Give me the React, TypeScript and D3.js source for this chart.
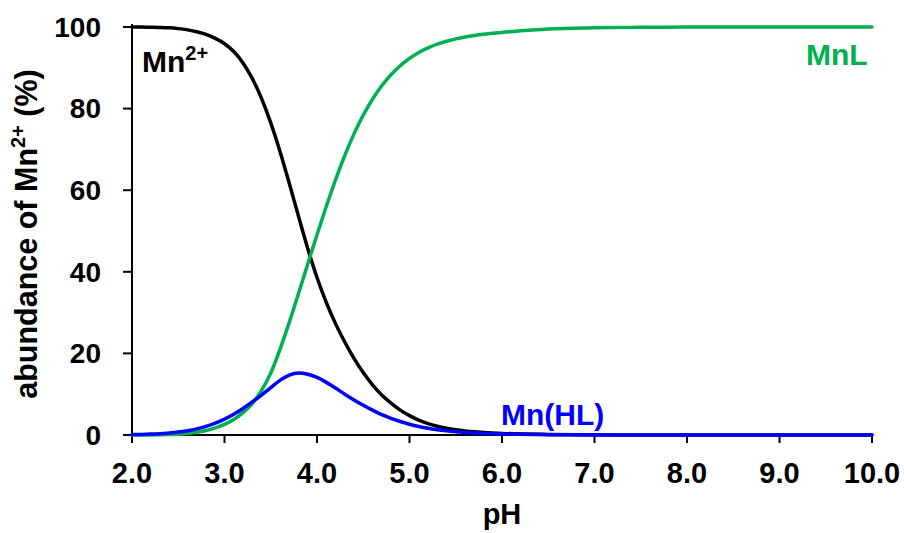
import React from "react";
import * as d3 from "d3";

// pH grid on which the species abundances are tabulated
const pH = [
  2.0, 2.1, 2.2, 2.3, 2.4, 2.5, 2.6, 2.7, 2.8, 2.9,
  3.0, 3.1, 3.2, 3.3, 3.4, 3.5, 3.6, 3.7, 3.8, 3.9,
  4.0, 4.1, 4.2, 4.3, 4.4, 4.5, 4.6, 4.7, 4.8, 4.9,
  5.0, 5.1, 5.2, 5.3, 5.4, 5.5, 5.6, 5.7, 5.8, 5.9,
  6.0, 6.5, 7.0, 7.5, 8.0, 9.0, 10.0,
];

// abundance of free Mn2+ (% of total Mn)
const mnFree = [
  100, 99.98, 99.95, 99.9, 99.8, 99.6, 99.3, 98.85, 98.2, 97.2,
  95.9, 94.0, 91.2, 87.4, 82.5, 76.5, 69.5, 61.7, 53.6, 45.7,
  38.6, 32.5, 27.3, 22.8, 18.8, 15.3, 12.3, 9.8, 7.8, 6.1,
  4.75, 3.65, 2.8, 2.15, 1.65, 1.28, 1.0, 0.78, 0.62, 0.49,
  0.39, 0.14, 0.05, 0.02, 0.0, 0.0, 0.0,
];

// abundance of the MnL complex
const mnL = [
  0.0, 0.01, 0.02, 0.05, 0.1, 0.2, 0.38, 0.65, 1.1, 1.75,
  2.6, 3.8, 5.5, 7.7, 10.9, 15.2, 21.0, 27.6, 34.7, 41.9,
  49.1, 56.0, 62.5, 68.5, 73.8, 78.4, 82.3, 85.6, 88.3, 90.5,
  92.3, 93.75, 94.9, 95.8, 96.52, 97.1, 97.56, 97.93, 98.23, 98.47,
  98.66, 99.5, 99.8, 99.93, 99.97, 100, 100,
];

// abundance of the protonated Mn(HL) complex
const mnHL = [
  0.1, 0.15, 0.22, 0.33, 0.5, 0.72, 1.05, 1.5, 2.1, 2.9,
  3.9, 5.1, 6.5, 8.1, 9.8, 11.6, 13.4, 14.7, 15.2, 14.9,
  14.1, 12.9, 11.5, 10.0, 8.6, 7.3, 6.1, 5.0, 4.1, 3.3,
  2.65, 2.1, 1.65, 1.3, 1.02, 0.8, 0.63, 0.5, 0.39, 0.31,
  0.25, 0.08, 0.03, 0.01, 0.0, 0.0, 0.0,
];

const xTicks = [2, 3, 4, 5, 6, 7, 8, 9, 10];
const yTicks = [0, 20, 40, 60, 80, 100];

const FONT = "'Liberation Sans', Arial, Helvetica, sans-serif";

export default function App() {
  const x = d3.scaleLinear().domain([2, 10]).range([132, 872]);
  const y = d3.scaleLinear().domain([0, 100]).range([435, 27]);

  const line = (vals: number[]) =>
    d3
      .line<number>()
      .x((_, i) => x(pH[i]))
      .y((v) => y(v))
      .curve(d3.curveMonotoneX)(vals) || "";

  const series = [
    { vals: mnFree, color: "#000000" },
    { vals: mnL, color: "#00B050" },
    { vals: mnHL, color: "#0000FF" },
  ];

  const x0 = x(2);
  const y0 = y(0);

  return (
    <svg
      width={904}
      height={533}
      style={{ position: "absolute", left: 0, top: 0, background: "#fff" }}
      fontFamily={FONT}
      fontWeight="bold"
    >
      {/* axes */}
      <line x1={x0} x2={x0} y1={y(100) - 3} y2={y0} stroke="#000" strokeWidth={2} />
      <line x1={x0} x2={x(10)} y1={y0} y2={y0} stroke="#000" strokeWidth={2} />
      {yTicks.map((t) => (
        <g key={"y" + t}>
          <line x1={x0 - 9} x2={x0} y1={y(t)} y2={y(t)} stroke="#000" strokeWidth={2} />
          <text x={x0 - 31} y={y(t)} dy="0.35em" textAnchor="end" fontSize={28}>
            {t}
          </text>
        </g>
      ))}
      {xTicks.map((t) => (
        <g key={"x" + t}>
          <line x1={x(t)} x2={x(t)} y1={y0} y2={y0 + 8} stroke="#000" strokeWidth={2} />
          <text x={x(t)} y={483} textAnchor="middle" fontSize={29}>
            {d3.format(".1f")(t)}
          </text>
        </g>
      ))}

      {/* axis titles */}
      <text x={502} y={524} textAnchor="middle" fontSize={29}>
        pH
      </text>
      <text transform="translate(37,234) rotate(-90)" textAnchor="middle" fontSize={30.5}>
        abundance of Mn
        <tspan fontSize={20} dy={-12}>2+</tspan>
        <tspan dy={12}> (%)</tspan>
      </text>

      {/* species curves */}
      {series.map((s, i) => (
        <path key={i} d={line(s.vals)} fill="none" stroke={s.color} strokeWidth={3.5} strokeLinecap="round" />
      ))}

      {/* species labels */}
      <text x={142} y={72} fontSize={30} fill="#000">
        Mn<tspan fontSize={20} dy={-12}>2+</tspan>
      </text>
      <text x={806} y={65} fontSize={30} fill="#00B050">
        MnL
      </text>
      <text x={501} y={425} fontSize={30} fill="#0000FF">
        Mn(HL)
      </text>
    </svg>
  );
}
